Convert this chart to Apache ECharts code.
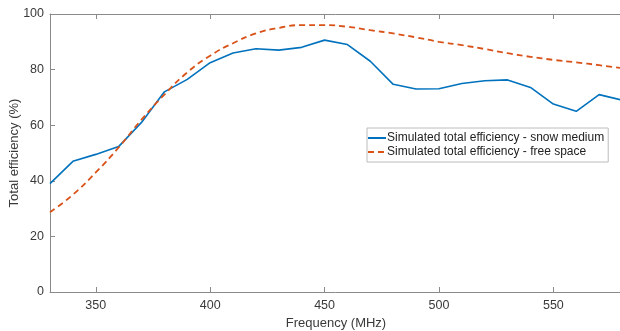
<!DOCTYPE html>
<html><head><meta charset="utf-8">
<script src="https://cdn.jsdelivr.net/npm/echarts@6/dist/echarts.min.js"></script>
<style>html,body{margin:0;padding:0;background:#fff}#c{width:620px;height:331px}</style>
</head><body><div id="c"></div>
<script>
const freq = [330,340,350,360,370,380,390,400,410,420,430,440,450,460,470,480,490,500,510,520,530,540,550,560,570,580];
const snowMedium = [39,47,49.5,52.3,61,72,76.5,82.5,86,87.5,87,88,90.6,89,83,74.7,73,73.1,75,76,76.3,73.6,67.6,65,71,69];
const freeSpace = [28.7,35,43,52,62,71,79,85,89.5,93,95,96,96,95.4,94.2,93,91.6,90,88.8,87.4,85.9,84.6,83.5,82.6,81.6,80.5];
const xTicks = [350,400,450,500,550];
const yTicks = [0,20,40,60,80,100];
const seriesNames = ['Simulated total efficiency - snow medium','Simulated total efficiency - free space'];

const axisCol = '#8a8a8a';
const txtCol = '#3a3a3a';
const font = 'Liberation Sans, Arial, sans-serif';
const chart = echarts.init(document.getElementById('c'));
chart.setOption({
  animation:false,
  grid:{left:50,top:14,bottom:39,right:-2,containLabel:false,outerBoundsMode:'none'},
  legend:{
    orient:'vertical', left:367, top:128, itemWidth:18, itemHeight:10, itemGap:2,
    padding:[4,4,4,0],
    borderColor:'#bcbcbc', borderWidth:1, backgroundColor:'#fff',
    itemStyle:{opacity:0},
    textStyle:{fontFamily:font,fontSize:12,color:'#222',padding:[0,0,0,-4]},
    data:seriesNames
  },
  xAxis:[{
    type:'value', min:330, max:580,
    name:'Frequency (MHz)', nameLocation:'middle', nameGap:25, nameMoveOverlap:false,
    nameTextStyle:{fontFamily:font,fontSize:13,color:txtCol},
    axisLine:{lineStyle:{color:axisCol,width:1}},
    axisTick:{inside:true,length:5,lineStyle:{color:axisCol},customValues:xTicks},
    axisLabel:{fontFamily:font,fontSize:12.5,color:txtCol,margin:7,customValues:xTicks},
    splitLine:{show:false}
  },{
    type:'value', min:330, max:580, position:'top',
    axisLine:{lineStyle:{color:axisCol,width:1}},
    axisTick:{inside:true,length:5,lineStyle:{color:axisCol},customValues:xTicks},
    axisLabel:{show:false}, splitLine:{show:false}
  }],
  yAxis:{
    type:'value', min:0, max:100, interval:20,
    name:'Total efficiency (%)', nameLocation:'middle', nameGap:29, nameMoveOverlap:false,
    nameTextStyle:{fontFamily:font,fontSize:13,color:txtCol},
    axisLine:{show:true,lineStyle:{color:axisCol,width:1}},
    axisTick:{show:true,inside:true,length:5,lineStyle:{color:axisCol}},
    axisLabel:{fontFamily:font,fontSize:12.5,color:txtCol,margin:6},
    splitLine:{show:false}
  },
  series:[{
    name:seriesNames[0], type:'line', symbol:'none',
    data:freq.map((f,i)=>[f,snowMedium[i]]),
    lineStyle:{color:'#0072BD',width:1.6}, itemStyle:{color:'#0072BD'}
  },{
    name:seriesNames[1], type:'line', symbol:'none', smooth:true,
    data:freq.map((f,i)=>[f,freeSpace[i]]),
    lineStyle:{color:'#D95319',width:1.8,type:[6,4]}, itemStyle:{color:'#D95319'}
  }]
});
</script></body></html>
